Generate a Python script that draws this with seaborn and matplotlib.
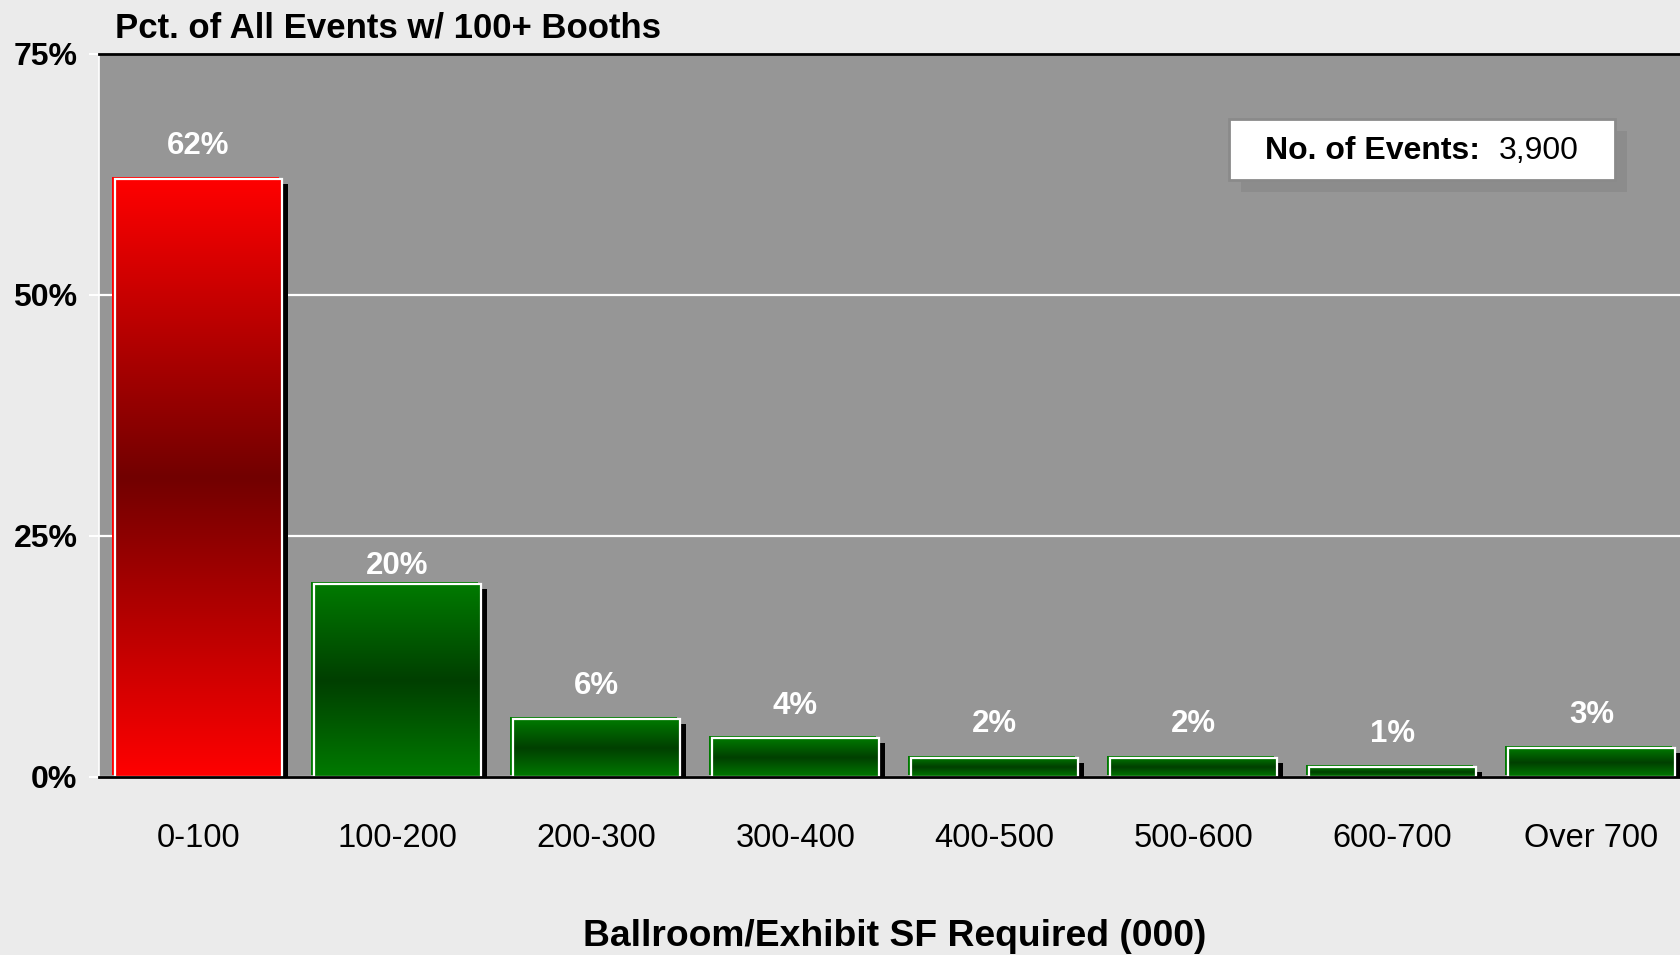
import numpy as np
import pandas as pd
import matplotlib
matplotlib.use("Agg")
import matplotlib.pyplot as plt
import matplotlib.patheffects as pe
from matplotlib.patches import Rectangle
from matplotlib.transforms import ScaledTranslation
from matplotlib.ticker import FixedLocator, FuncFormatter
import seaborn as sns

# ---- data -------------------------------------------------------------
categories = ["0-100", "100-200", "200-300", "300-400",
              "400-500", "500-600", "600-700", "Over 700"]
pct_events = [62, 20, 6, 4, 2, 2, 1, 3]
y_ticks = [0, 25, 50, 75]
event_count_label = "No. of Events:"
event_count_value = "3,900"
title_text = "Pct. of All Events w/ 100+ Booths"
xlabel_text = "Ballroom/Exhibit SF Required (000)"

# ---- style ------------------------------------------------------------
RED_LIGHT, RED_DARK = "#FF0000", "#720000"
GREEN_LIGHT, GREEN_DARK = "#007A00", "#003F00"
bar_light = [RED_LIGHT] + [GREEN_LIGHT] * 7
bar_dark = [RED_DARK] + [GREEN_DARK] * 7
label_offsets_pt = [24, 13, 24, 23, 24, 24, 24, 24]

sns.set_style("white")
plt.rcParams["font.family"] = ["Liberation Sans", "DejaVu Sans"]
plt.rcParams.update({"text.color": "black", "axes.labelcolor": "black",
                     "xtick.color": "black", "ytick.color": "black"})

DPI = 100
fig = plt.figure(figsize=(16.81, 9.55), dpi=DPI, facecolor="#EBEBEB")
ax = fig.add_axes([98.6 / 1681, 1 - 777 / 955, 1 - 98.6 / 1681, (777 - 53.6) / 955])
ax.set_facecolor("#969696")

df = pd.DataFrame({"size": categories, "pct": pct_events})
sns.barplot(data=df, x="size", y="pct", hue="size", order=categories,
            hue_order=categories, palette=bar_light, saturation=1,
            width=0.84, legend=False, ax=ax, linewidth=0, zorder=2)

# solid underlay bars sit a little up/left, with a black drop shadow
under = ax.transData + ScaledTranslation(-3 / DPI, 2 / DPI, fig.dpi_scale_trans)
for patch in ax.patches:
    patch.set_transform(under)
    patch.set_path_effects([
        pe.SimplePatchShadow(offset=(6.5, -5), shadow_rgbFace="black", alpha=1),
        pe.Normal(),
    ])

# gradient face + white frame at the bar's own position
t = np.linspace(0, 1, 256)
mix = np.abs(2 * t - 1)[:, None]
for patch, light, dark in zip(ax.patches, bar_light, bar_dark):
    x0, w, h = patch.get_x(), patch.get_width(), patch.get_height()
    lc = np.array(matplotlib.colors.to_rgb(light))
    dc = np.array(matplotlib.colors.to_rgb(dark))
    grad = dc + (lc - dc) * mix
    img = np.repeat(grad[:, None, :], 2, axis=1)
    ax.imshow(img, extent=(x0, x0 + w, 0, h), origin="lower", aspect="auto",
              interpolation="bilinear", zorder=3)
    ax.add_patch(Rectangle((x0, 0), w, h, fill=False, ec="white", lw=1.6,
                           zorder=4))

# value labels
for i, (v, off) in enumerate(zip(pct_events, label_offsets_pt)):
    ax.annotate(f"{v}%", (i, v), xytext=(0, off), textcoords="offset points",
                ha="center", va="center", color="white", fontsize=22.5,
                fontweight="bold", zorder=6)

# axes
ax.set_xlim(-0.5, 7.45)
ax.set_ylim(0, 75)
ax.yaxis.set_major_locator(FixedLocator(y_ticks))
ax.yaxis.set_major_formatter(FuncFormatter(lambda v, _: f"{v:.0f}%"))
ax.grid(axis="y", color="white", lw=1.6)
ax.grid(axis="x", visible=False)
ax.set_axisbelow(True)
ax.tick_params(axis="y", length=7.2, width=1.5, color="white", pad=8,
               labelsize=23, left=True, labelcolor="black")
for lab in ax.get_yticklabels():
    lab.set_fontweight("bold")
ax.tick_params(axis="x", length=0, pad=33, labelsize=23.5, labelcolor="black")

ax.spines["top"].set_color("black")
ax.spines["top"].set_linewidth(2)
ax.spines["bottom"].set_color("black")
ax.spines["bottom"].set_linewidth(2)
ax.spines["left"].set_color("white")
ax.spines["left"].set_linewidth(1.2)
ax.spines["right"].set_visible(False)
for s in ax.spines.values():
    s.set_zorder(5)

ax.set_ylabel("")
ax.set_xlabel(xlabel_text, fontsize=26.8, fontweight="bold")
ax.xaxis.set_label_coords((895 - 98.6) / 1582.4, (777 - 936) / 723.4)
ax.xaxis.label.set_va("center")

fig.text(115 / 1681, 1 - 28 / 955, title_text, fontsize=25,
         fontweight="bold", ha="left", va="center")

# event-count box with its shadow
fx = lambda px: px / 1681
fy = lambda py: 1 - py / 955
fig.patches.append(Rectangle((fx(1241), fy(192)), fx(1627) - fx(1241), fy(131) - fy(192),
                             transform=fig.transFigure, fc="#8C8C8C", ec="none",
                             zorder=5))
fig.patches.append(Rectangle((fx(1229), fy(180)), fx(1615) - fx(1229), fy(119) - fy(180),
                             transform=fig.transFigure, fc="white", ec="#8A8A8A",
                             lw=2, zorder=6))
fig.text(fx(1265), fy(151), event_count_label, fontsize=23, fontweight="bold",
         ha="left", va="center", zorder=7)
fig.text(fx(1499), fy(151), event_count_value, fontsize=23,
         ha="left", va="center", zorder=7)

fig.savefig("out.png", dpi=DPI, facecolor=fig.get_facecolor())
